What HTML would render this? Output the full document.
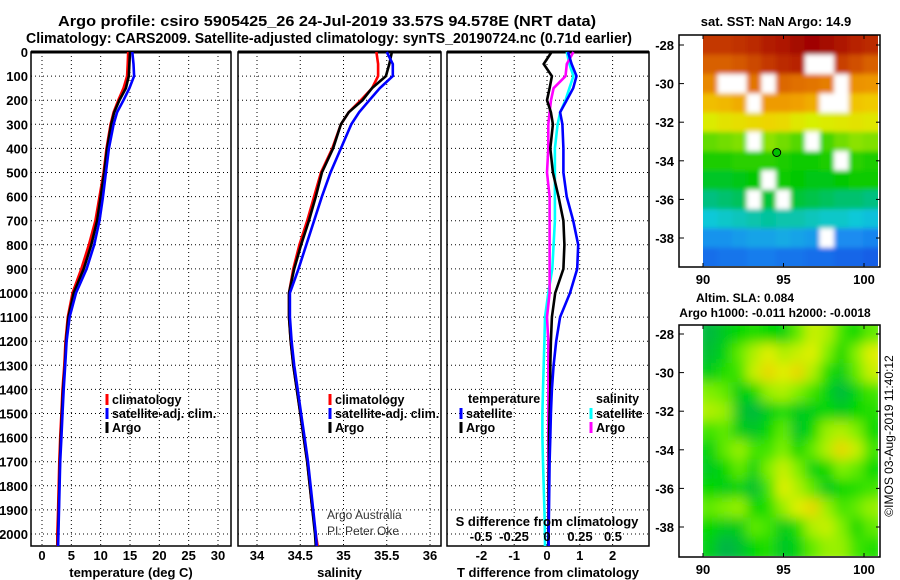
<!DOCTYPE html>
<html><head><meta charset="utf-8">
<style>
html,body{margin:0;padding:0;background:#fff;}
svg{display:block;font-family:"Liberation Sans",Arial,sans-serif;}
.b{font-weight:bold;}
</style></head>
<body>
<svg id="chart" width="900" height="580" viewBox="0 0 900 580" xmlns="http://www.w3.org/2000/svg">
<defs>
<clipPath id="clipSst"><rect x="703" y="35" width="175" height="231"/></clipPath>
<clipPath id="clipSla"><rect x="703" y="325" width="175" height="231"/></clipPath>
<filter id="blurSst" x="-5%" y="-5%" width="110%" height="110%"><feGaussianBlur stdDeviation="2.5"/></filter>
<filter id="blurSla" x="-5%" y="-5%" width="110%" height="110%"><feGaussianBlur stdDeviation="6"/></filter>
</defs>
<g>
<text x="327" y="26" text-anchor="middle" font-size="14.5" class="b" textLength="538" lengthAdjust="spacingAndGlyphs">Argo profile: csiro 5905425_26 24-Jul-2019 33.57S 94.578E (NRT data)</text>
<text x="329" y="43" text-anchor="middle" font-size="14.5" class="b" textLength="606" lengthAdjust="spacingAndGlyphs">Climatology: CARS2009. Satellite-adjusted climatology: synTS_20190724.nc (0.71d earlier)</text>
<text x="776" y="26" text-anchor="middle" font-size="13" class="b">sat. SST: NaN Argo: 14.9</text>
<text x="745" y="302" text-anchor="middle" font-size="12" class="b">Altim. SLA: 0.084</text>
<text x="775" y="317" text-anchor="middle" font-size="12" class="b">Argo h1000: -0.011 h2000: -0.0018</text>
<text transform="translate(893,436) rotate(-90)" text-anchor="middle" font-size="12">©IMOS 03-Aug-2019 11:40:12</text>
<text x="327" y="519" font-size="12" fill="#333">Argo Australia</text>
<text x="327" y="535" font-size="12" fill="#333">PI: Peter Oke</text>
</g>
<g id="panels"></g>
<g id="maps"></g>
</svg>
<script>
// ---- profile data ----
const depths = [0,50,100,150,200,250,300,400,500,600,700,800,900,1000,1100,1200,1300,1400,1500,1600,1700,1800,1900,2000,2050];
const tempClim = [14.7,14.6,14.5,13.9,13.0,12.2,11.7,11.0,10.5,9.8,9.1,8.0,6.7,5.2,4.4,4.0,3.8,3.5,3.3,3.1,2.95,2.85,2.75,2.6,2.6];
const tempSat  = [15.4,15.6,15.7,14.9,13.9,12.8,12.2,11.4,10.9,10.4,9.8,8.9,7.6,5.8,4.7,4.2,3.95,3.7,3.5,3.3,3.1,3.0,2.9,2.8,2.75];
const tempArgo = [15.0,14.9,14.8,14.3,13.2,12.3,11.8,11.1,10.6,10.0,9.4,8.4,7.1,5.4,4.5,4.1,3.9,3.6,3.4,3.2,3.05,2.95,2.85,2.75,2.7];
const salClim = [35.38,35.40,35.40,35.33,35.20,35.06,34.97,34.87,34.74,34.66,34.58,34.49,34.42,34.37,34.37,34.39,34.42,34.46,34.50,34.54,34.58,34.61,34.64,34.68,34.70];
const salSat  = [35.50,35.57,35.57,35.42,35.30,35.18,35.09,34.97,34.85,34.75,34.66,34.57,34.48,34.38,34.38,34.40,34.43,34.47,34.51,34.55,34.59,34.62,34.65,34.68,34.69];
const salArgo = [35.56,35.53,35.49,35.33,35.22,35.06,34.97,34.88,34.75,34.68,34.60,34.51,34.43,34.37,34.37,34.39,34.42,34.46,34.50,34.54,34.58,34.61,34.64,34.67,34.68];
const tDiffSat  = [0.64,0.75,0.9,0.8,0.6,0.4,0.47,0.5,0.5,0.6,0.8,0.95,0.92,0.7,0.4,0.28,0.2,0.15,0.12,0.1,0.08,0.07,0.06,0.05,0.05];
const tDiffArgo = [0.14,-0.1,0.15,0.08,0.0,0.12,0.18,0.1,0.18,0.35,0.5,0.53,0.5,0.25,0.15,0.12,0.1,0.1,0.08,0.06,0.06,0.05,0.05,0.04,0.04];
const sDiffSat  = [0.15,0.17,0.2,0.17,0.14,0.1,0.08,0.06,0.06,0.06,0.06,0.05,0.04,0.01,-0.015,-0.02,-0.025,-0.03,-0.035,-0.035,-0.03,-0.025,-0.02,-0.015,-0.015];
const sDiffArgo = [0.2,0.15,0.14,0.05,0.03,0.02,0.01,0.01,0.0,0.02,0.02,0.02,0.02,0.02,0.0,0.01,0.01,0.01,0.01,0.01,0.01,0.01,0.01,0.01,0.01];
const depthTicks = [0,100,200,300,400,500,600,700,800,900,1000,1100,1200,1300,1400,1500,1600,1700,1800,1900,2000];
const tempTicks = [0,5,10,15,20,25,30];
const salTicks = [34,34.5,35,35.5,36];
const salTickLabels = ["34","34.5","35","35.5","36"];
const tDiffTicks = [-2,-1,0,1,2];
const sDiffTicks = [-0.5,-0.25,0,0.25,0.5];
const sDiffTickLabels = ["-0.5","-0.25","0","0.25","0.5"];

// ---- map data (rows: lat -28 .. -39, cols: lon 90 .. 100.4) ----
const sstRow0  = [19.5,19.5,19.6,19.7,19.9,20.0,20.2,20.3,20.2,20.0,19.8,19.7];
const sstRow1  = [19.0,19.0,19.1,19.3,19.5,19.7,19.8,null,null,19.4,19.2,19.0];
const sstRow2  = [18.3,null,null,18.7,null,18.9,18.8,18.7,18.5,null,18.1,18.0];
const sstRow3  = [17.3,17.4,17.6,null,17.9,17.9,17.8,17.6,null,null,17.2,17.1];
const sstRow4  = [16.4,16.6,16.7,16.8,16.9,16.8,16.5,16.3,16.4,16.5,16.6,16.5];
const sstRow5  = [15.3,15.4,15.5,null,15.6,15.4,15.2,null,15.1,15.4,15.6,15.5];
const sstRow6  = [14.8,14.8,14.9,14.9,14.9,14.8,14.7,14.7,14.8,null,14.9,14.8];
const sstRow7  = [14.4,14.4,14.5,14.6,null,14.7,14.6,14.5,14.5,14.6,14.7,14.7];
const sstRow8  = [13.9,14.0,14.1,null,14.3,null,14.3,14.2,14.1,14.0,14.0,13.9];
const sstRow9  = [13.3,13.4,13.5,13.6,13.7,13.6,13.6,13.5,13.4,13.4,13.3,13.2];
const sstRow10 = [12.6,12.6,12.7,12.8,12.8,12.9,12.8,12.7,null,12.5,12.5,12.4];
const sstRow11 = [12.1,12.2,12.2,12.3,12.3,12.2,12.2,12.1,12.1,12.0,12.0,11.9];
const slaRow0  = [-0.6,-0.3,0.0,0.1,0.0,-0.1,0.3,0.7,0.6,0.2,0.0,0.3];
const slaRow1  = [-0.5,-0.1,0.3,0.6,0.8,0.6,0.7,0.8,0.4,0.0,0.4,0.8];
const slaRow2  = [-0.2,0.1,0.2,0.7,0.9,0.8,0.9,0.6,0.1,-0.2,0.3,0.7];
const slaRow3  = [0.4,0.3,-0.2,0.0,0.5,0.6,0.4,0.2,-0.1,-0.6,-0.1,0.2];
const slaRow4  = [0.6,0.5,-0.4,-0.6,-0.2,0.1,-0.3,-0.2,0.0,-0.3,0.0,0.1];
const slaRow5  = [0.2,0.3,-0.2,-0.4,0.0,0.3,-0.4,0.0,0.5,0.6,0.4,0.0];
const slaRow6  = [-0.1,0.3,0.5,0.2,0.2,0.4,0.0,0.3,0.6,0.9,0.7,0.2];
const slaRow7  = [-0.3,0.0,0.3,-0.1,0.4,0.7,0.4,-0.1,0.0,0.4,0.3,0.0];
const slaRow8  = [0.0,-0.2,-0.1,-0.5,0.2,0.8,0.6,0.3,-0.3,0.0,0.1,0.2];
const slaRow9  = [0.3,0.4,0.5,0.0,0.1,0.5,0.8,0.9,0.5,0.2,0.3,0.5];
const slaRow10 = [0.0,-0.3,-0.2,0.3,0.2,-0.3,0.1,0.6,0.7,0.4,0.0,0.3];
const slaRow11 = [-0.2,-0.7,-0.5,0.0,0.1,-0.4,-0.1,0.3,0.5,0.5,0.2,0.1];
const sstGrid = [sstRow0,sstRow1,sstRow2,sstRow3,sstRow4,sstRow5,sstRow6,sstRow7,sstRow8,sstRow9,sstRow10,sstRow11];
const slaGrid = [slaRow0,slaRow1,slaRow2,slaRow3,slaRow4,slaRow5,slaRow6,slaRow7,slaRow8,slaRow9,slaRow10,slaRow11];
const latTicks = [-28,-30,-32,-34,-36,-38];
const lonTicks = [90,95,100];
const argoLon = 94.578, argoLat = -33.57;

const NS = "http://www.w3.org/2000/svg";
function mk(tag, attrs, parent){ const e=document.createElementNS(NS,tag); for(const k in attrs) e.setAttribute(k,attrs[k]); parent.appendChild(e); return e; }
const panels = document.getElementById('panels');
const TOP=52, BOT=546;
const yD = d => TOP + d*0.241;

function linMap(v0,p0,v1,p1){ return v => p0 + (v-v0)*(p1-p0)/(v1-v0); }

function drawPanel(name,x0,x1,xs,ticks,labels,xlabel,showDepth){
  const g = mk('g',{},panels);
  
  
  depthTicks.forEach(d=>{
    const l=mk('line',{x1:x0,x2:x1,y1:yD(d),y2:yD(d),stroke:'#000','stroke-width':1,'stroke-dasharray':'1,3'},g);
    
    
    if(showDepth){
      const t=mk('text',{x:x0-3,y:yD(d)+5,'text-anchor':'end','font-size':13,'font-weight':'bold'},g);
      t.textContent=d;
      
      
    }
  });
  ticks.forEach((v,i)=>{
    const l=mk('line',{x1:xs(v),x2:xs(v),y1:TOP,y2:BOT,stroke:'#000','stroke-width':1,'stroke-dasharray':'1,3'},g);
    
    
    const t=mk('text',{x:xs(v),y:560,'text-anchor':'middle','font-size':13,'font-weight':'bold'},g);
    t.textContent=labels[i];
    
    
  });
  const r=mk('rect',{x:x0,y:TOP,width:x1-x0,height:BOT-TOP,fill:'none',stroke:'#000','stroke-width':1.5},g);
  
  
  mk('line',{x1:x0,x2:x1,y1:TOP,y2:TOP,stroke:'#000','stroke-width':3},g);
  const xt=mk('text',{x:(x0+x1)/2,y:577,'text-anchor':'middle','font-size':13,'font-weight':'bold'},g);
  xt.textContent=xlabel;
  
  
  return g;
}
function drawLine(g,xs,vals,color,name){
  let pts=[];
  vals.forEach((v,i)=>{ pts.push(xs(v).toFixed(1)+','+yD(depths[i]).toFixed(1)); });
  const p=mk('polyline',{points:pts.join(' '),fill:'none',stroke:color,'stroke-width':2.6,'stroke-linejoin':'miter'},g);
  
  
}
function legend(g,x,y,color,label,name){
  const r=mk('rect',{x:x-1.5,y:y-10,width:3,height:11,fill:color},g);
  
  
  const t=mk('text',{x:x+5,y:y,'font-size':12.5,'font-weight':'bold'},g);
  t.textContent=label;
  
  
}

// Temperature panel
const xT = linMap(0,42,30,218);
const gT = drawPanel('temperature',31,231,xT,tempTicks,tempTicks.map(String),'temperature (deg C)',true);
drawLine(gT,xT,tempClim,'#ff0000','temp-climatology-line');
drawLine(gT,xT,tempArgo,'#000000','temp-argo-line');
drawLine(gT,xT,tempSat,'#0000ff','temp-satellite-line');
legend(gT,107,404,'#ff0000','climatology','legend-climatology');
legend(gT,107,418,'#0000ff','satellite-adj. clim.','legend-satellite-adj');
legend(gT,107,432,'#000000','Argo','legend-argo');

// Salinity panel
const xS = linMap(34,257,36,430);
const gS = drawPanel('salinity',238,441,xS,salTicks,salTickLabels,'salinity',false);
drawLine(gS,xS,salClim,'#ff0000','sal-climatology-line');
drawLine(gS,xS,salArgo,'#000000','sal-argo-line');
drawLine(gS,xS,salSat,'#0000ff','sal-satellite-line');
legend(gS,330,404,'#ff0000','climatology','legend-climatology');
legend(gS,330,418,'#0000ff','satellite-adj. clim.','legend-satellite-adj');
legend(gS,330,432,'#000000','Argo','legend-argo');

// Difference panel
const xTD = linMap(0,547,1,579.8);
const xSD = linMap(0,547,0.25,580);
const gD = drawPanel('difference',447,649,xTD,tDiffTicks,tDiffTicks.map(String),'T difference from climatology',false);
drawLine(gD,xSD,sDiffSat,'#00ffff','s-diff-satellite-line');
drawLine(gD,xSD,sDiffArgo,'#ff00ff','s-diff-argo-line');
drawLine(gD,xTD,tDiffArgo,'#000000','t-diff-argo-line');
drawLine(gD,xTD,tDiffSat,'#0000ff','t-diff-satellite-line');
const th=mk('text',{x:468,y:403,'font-size':12.5,'font-weight':'bold'},gD); th.textContent='temperature';


const sh=mk('text',{x:596,y:403,'font-size':12.5,'font-weight':'bold'},gD); sh.textContent='salinity';


legend(gD,461,418,'#0000ff','satellite','legend-t-satellite');
legend(gD,461,432,'#000000','Argo','legend-t-argo');
legend(gD,591,418,'#00ffff','satellite','legend-s-satellite');
legend(gD,591,432,'#ff00ff','Argo','legend-s-argo');
const sdt=mk('text',{x:547,y:526,'text-anchor':'middle','font-size':13,'font-weight':'bold'},gD); sdt.textContent='S difference from climatology';


sDiffTicks.forEach((v,i)=>{
  const t=mk('text',{x:xSD(v),y:541,'text-anchor':'middle','font-size':13,'font-weight':'bold'},gD);
  t.textContent=sDiffTickLabels[i];
  
  
});

// ---- maps ----
const maps=document.getElementById('maps');
function colorScale(stops){
  return v=>{
    if(v<=stops[0][0]) return 'rgb('+stops[0][1].join(',')+')';
    for(let i=1;i<stops.length;i++){
      if(v<=stops[i][0]){
        const a=stops[i-1],b=stops[i],f=(v-a[0])/(b[0]-a[0]);
        const c=[0,1,2].map(k=>Math.round(a[1][k]+(b[1][k]-a[1][k])*f));
        return 'rgb('+c.join(',')+')';
      }
    }
    const l=stops[stops.length-1][1]; return 'rgb('+l.join(',')+')';
  };
}
const sstColor=colorScale([[11.5,[16,64,224]],[12.5,[26,140,240]],[13.3,[16,200,216]],[13.9,[0,192,128]],[14.6,[0,200,0]],[15.5,[128,224,0]],[16.3,[216,240,0]],[17,[240,208,0]],[17.8,[240,160,0]],[18.8,[224,112,0]],[19.6,[192,48,0]],[20.3,[160,0,0]]]);
const slaColor=colorScale([[-1,[0,160,112]],[-0.5,[0,192,48]],[0,[0,216,0]],[0.4,[128,240,0]],[0.8,[224,240,0]],[1,[240,192,0]]]);

function drawMap(name,top,bot,lat28y,lat38y,grid,cfun,argo,clipId,filterId){
  const g=mk('g',{},maps);
  
  
  const clipG=mk('g',{'clip-path':'url(#'+clipId+')'},g);
  const cells=mk('g',{filter:'url(#'+filterId+')'},clipG);
  const xL=linMap(90,703,100,864);
  const yL=linMap(-28,lat28y,-38,lat38y);
  const nR=grid.length,nC=grid[0].length;
  const dLat=(-27.5 - -39.5)/nR, dLon=(100.85-90)/nC;
  grid.forEach((row,r)=>row.forEach((v,c)=>{
    const la=-27.5 - r*dLat, lo=90+c*dLon;
    const x=xL(lo), y=yL(la), w=xL(lo+dLon)-x+0.5, h=yL(la-dLat)-y+0.5;
    // extend edge cells so the blur does not fade at the frame
    const ex = c===0?-8:0, ew = (c===0?8:0)+(c===nC-1?8:0);
    const ey = r===0?-8:0, eh = (r===0?8:0)+(r===nR-1?8:0);
    const cell=mk('rect',{x:(x+ex).toFixed(1),y:(y+ey).toFixed(1),width:(w+ew).toFixed(1),height:(h+eh).toFixed(1),fill:v===null?'#ffffff':cfun(v)},cells);
    
    
  }));
  const fr=mk('rect',{x:679,y:top,width:201,height:bot-top,fill:'none',stroke:'#000','stroke-width':1.5},g);
  
  
  latTicks.forEach(la=>{
    mk('line',{x1:679,x2:684,y1:yL(la),y2:yL(la),stroke:'#000'},g);
    mk('line',{x1:876,x2:880,y1:yL(la),y2:yL(la),stroke:'#000'},g);
    const t=mk('text',{x:674,y:yL(la)+5,'text-anchor':'end','font-size':13,'font-weight':'bold'},g);
    t.textContent=String(la);
    
    
  });
  lonTicks.forEach(lo=>{
    mk('line',{x1:xL(lo),x2:xL(lo),y1:bot,y2:bot-4,stroke:'#000'},g);
    mk('line',{x1:xL(lo),x2:xL(lo),y1:top,y2:top+4,stroke:'#000'},g);
    const t=mk('text',{x:xL(lo),y:bot+17,'text-anchor':'middle','font-size':13,'font-weight':'bold'},g);
    t.textContent=lo;
    
    
  });
  if(argo){
    const c=mk('circle',{cx:xL(argoLon),cy:yL(argoLat),r:4,fill:'#00c000',stroke:'#000','stroke-width':1},g);
    
    
  }
}
drawMap('sst-map',35,267,45,238,sstGrid,sstColor,true,'clipSst','blurSst');
drawMap('sla-map',325,557,334,527,slaGrid,slaColor,false,'clipSla','blurSla');
</script>
</body></html>
